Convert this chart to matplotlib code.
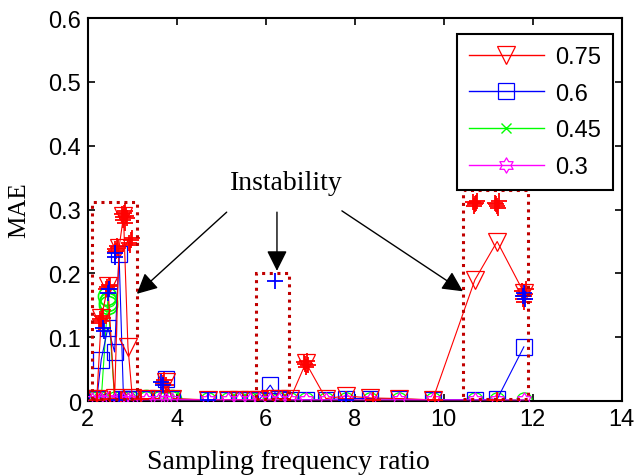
import numpy as np
import matplotlib
matplotlib.use("Agg")
import matplotlib.pyplot as plt
from matplotlib.lines import Line2D
from matplotlib.patches import Rectangle
from matplotlib.path import Path

# sampling frequency ratio grid
x_ratio = [2.1, 2.2, 2.3, 2.45, 2.6, 2.7, 2.8, 2.9, 3.0, 3.3, 3.6, 3.75, 3.9, 4.7, 5.15,
           5.4, 5.65, 5.85, 6.1, 6.3, 6.55, 6.9, 7.35, 7.8, 8.35, 9.0, 9.75, 10.7, 11.2, 11.8]

mae_075 = [0.004, 0.004, 0.13, 0.18, 0.005, 0.24, 0.29, 0.085, 0.005, 0.004, 0.004, 0.03, 0.004, 0.002, 0.002,
           0.002, 0.002, 0.002, 0.003, 0.004, 0.004, 0.06, 0.004, 0.008, 0.005, 0.004, 0.002, 0.19, 0.25, 0.17]
mae_06 = [0.003, 0.003, 0.065, 0.115, 0.077, 0.23, 0.004, 0.004, 0.004, 0.003, 0.004, 0.034, 0.003, 0.002, 0.002,
          0.002, 0.002, 0.002, 0.025, 0.003, 0.002, 0.002, 0.002, 0.004, 0.004, 0.003, 0.002, 0.002, 0.003, 0.085]
mae_045 = [0.003, 0.003, 0.003, 0.16, 0.003, 0.003, 0.004, 0.004, 0.004, 0.003, 0.003, 0.003, 0.003, 0.002, 0.002,
           0.002, 0.002, 0.002, 0.002, 0.002, 0.002, 0.002, 0.002, 0.002, 0.002, 0.002, 0.002, 0.002, 0.002, 0.002]
mae_03 = [0.002, 0.002, 0.002, 0.003, 0.002, 0.002, 0.002, 0.002, 0.002, 0.002, 0.002, 0.002, 0.002, 0.002, 0.002,
          0.002, 0.002, 0.002, 0.002, 0.002, 0.002, 0.002, 0.002, 0.002, 0.002, 0.002, 0.002, 0.002, 0.002, 0.002]

# unstable runs ("+" markers)
unst_red_x = [2.28, 2.32, 2.30, 2.34, 2.26, 2.43, 2.47, 2.45, 2.49, 2.41, 2.62, 2.66, 2.64, 2.68, 2.60,
              2.78, 2.82, 2.86, 2.80, 2.84, 2.88, 2.76, 2.83, 2.93, 2.97, 2.95, 2.99, 3.68, 3.72, 3.75,
              6.88, 6.92, 6.95, 6.90, 6.86, 10.66, 10.70, 10.74, 10.68, 10.72, 11.16, 11.20, 11.24, 11.22, 11.18,
              11.76, 11.80, 11.84, 11.78, 11.82, 11.81, 11.20, 2.2, 2.5, 2.75, 7.8, 8.4, 9.8, 3.2]
unst_red_y = [0.128, 0.133, 0.125, 0.130, 0.122, 0.178, 0.182, 0.175, 0.180, 0.176, 0.238, 0.243, 0.235, 0.240, 0.233,
              0.288, 0.295, 0.290, 0.283, 0.298, 0.287, 0.293, 0.279, 0.248, 0.252, 0.245, 0.255, 0.028, 0.033, 0.026,
              0.058, 0.063, 0.057, 0.053, 0.061, 0.312, 0.308, 0.314, 0.305, 0.310, 0.311, 0.306, 0.313, 0.303, 0.308,
              0.172, 0.165, 0.175, 0.160, 0.168, 0.156, 0.002, 0.002, 0.003, 0.004, 0.003, 0.002, 0.001, 0.003]
unst_blue_x = [2.35, 2.36, 2.45, 2.48, 2.60, 2.62, 3.65, 3.68, 6.20, 11.78, 11.82, 11.80, 2.7, 4.7, 7.8]
unst_blue_y = [0.115, 0.110, 0.170, 0.175, 0.232, 0.225, 0.030, 0.025, 0.188, 0.165, 0.160, 0.170, 0.002, 0.001, 0.002]
unst_green_x = [2.44, 2.46, 2.45, 3.3, 3.9]
unst_green_y = [0.165, 0.155, 0.150, 0.004, 0.004]

# dotted boxes marking instability regions
box_x0 = [2.09, 5.78, 10.43]
box_x1 = [3.10, 6.52, 11.89]
box_y0 = [0.003, 0.003, 0.003]
box_y1 = [0.312, 0.200, 0.330]

arrow_from = [(5.12, 0.296), (6.25, 0.296), (7.71, 0.298)]
arrow_to = [(3.10, 0.168), (6.25, 0.204), (10.43, 0.172)]

# hexagram marker
ang = np.deg2rad(90 + 30 * np.arange(12))
rad = np.where(np.arange(12) % 2 == 0, 1.0, 0.577)
hexa_v = np.column_stack([rad * np.cos(ang), rad * np.sin(ang)])
hexagram = Path(np.vstack([hexa_v, hexa_v[:1]]), closed=True)

plt.rcParams['font.family'] = ['Liberation Sans', 'DejaVu Sans']
fig = plt.figure(figsize=(6.37, 4.77), dpi=100)
ax = fig.add_axes([0.138, 0.157, 0.838, 0.803])

RED, BLUE, GREEN, MAG = '#ff0000', '#0000ff', '#00ff00', '#ff00ff'

ax.plot(x_ratio, mae_03, color=MAG, lw=0.8, marker=hexagram, ms=11, mfc='none', mew=0.9, zorder=3)
ax.plot(x_ratio, mae_045, color=GREEN, lw=0.8, marker='o', ms=11, mfc='none', mew=0.9, zorder=2)
ax.plot(unst_green_x, unst_green_y, ls='none', marker='o', ms=13, mfc='none', mew=1.2, color=GREEN, zorder=2)
ax.plot(x_ratio, mae_06, color=BLUE, lw=0.8, marker='s', ms=11, mfc='none', mew=0.9, zorder=2)
ax.plot(x_ratio, mae_075, color=RED, lw=0.8, marker='v', ms=13, mfc='none', mew=0.9, zorder=2)
ax.plot(unst_red_x, unst_red_y, ls='none', marker='+', ms=12, mew=1.3, color=RED, zorder=4)
ax.plot(unst_blue_x, unst_blue_y, ls='none', marker='+', ms=12, mew=1.3, color=BLUE, zorder=4)

for x0, x1, y0, y1 in zip(box_x0, box_x1, box_y0, box_y1):
    ax.add_patch(Rectangle((x0, y0), x1 - x0, y1 - y0, fill=False, ec='#c00000',
                           lw=2.2, ls=(0, (1, 1.5)), zorder=5))

ax.text(6.47, 0.342, 'Instability', family='Liberation Serif', fontsize=20, ha='center', va='center')
for s, t in zip(arrow_from, arrow_to):
    ax.annotate('', xy=t, xytext=s,
                arrowprops=dict(arrowstyle='-|>,head_length=0.5,head_width=0.25', color='k',
                                lw=1, mutation_scale=25, shrinkA=0, shrinkB=0), zorder=6)

handles = [
    Line2D([], [], color=RED, lw=1, marker='v', ms=13, mfc='none', mew=0.9),
    Line2D([], [], color=BLUE, lw=1, marker='s', ms=11, mfc='none', mew=0.9),
    Line2D([], [], color=GREEN, lw=1, marker='x', ms=7, mew=1),
    Line2D([], [], color=MAG, lw=1, marker=hexagram, ms=11, mfc='none', mew=0.9),
]
leg = ax.legend(handles, ['0.75', '0.6', '0.45', '0.3'], loc='upper right',
                bbox_to_anchor=(0.983, 0.958), borderaxespad=0, fontsize=17,
                handlelength=3.2, handletextpad=0.45, labelspacing=0.62, borderpad=0.5,
                fancybox=False, framealpha=1, edgecolor='k')
leg.get_frame().set_linewidth(1.5)

ax.set_xlim(2, 14)
ax.set_ylim(0, 0.6)
ax.set_xticks([2, 4, 6, 8, 10, 12, 14])
ax.set_yticks([0, 0.1, 0.2, 0.3, 0.4, 0.5, 0.6])
ax.set_yticklabels(['0', '0.1', '0.2', '0.3', '0.4', '0.5', '0.6'])
ax.tick_params(direction='in', top=True, right=True, length=5, width=1.2, labelsize=17, pad=5)
for sp in ax.spines.values():
    sp.set_linewidth(1.5)
ax.set_xlabel('Sampling frequency ratio', family='Liberation Serif', fontsize=20)
ax.xaxis.set_label_coords(0.376, -0.125)
ax.set_ylabel('MAE', family='Liberation Serif', fontsize=18, labelpad=13)

fig.savefig('out.png', dpi=100)
